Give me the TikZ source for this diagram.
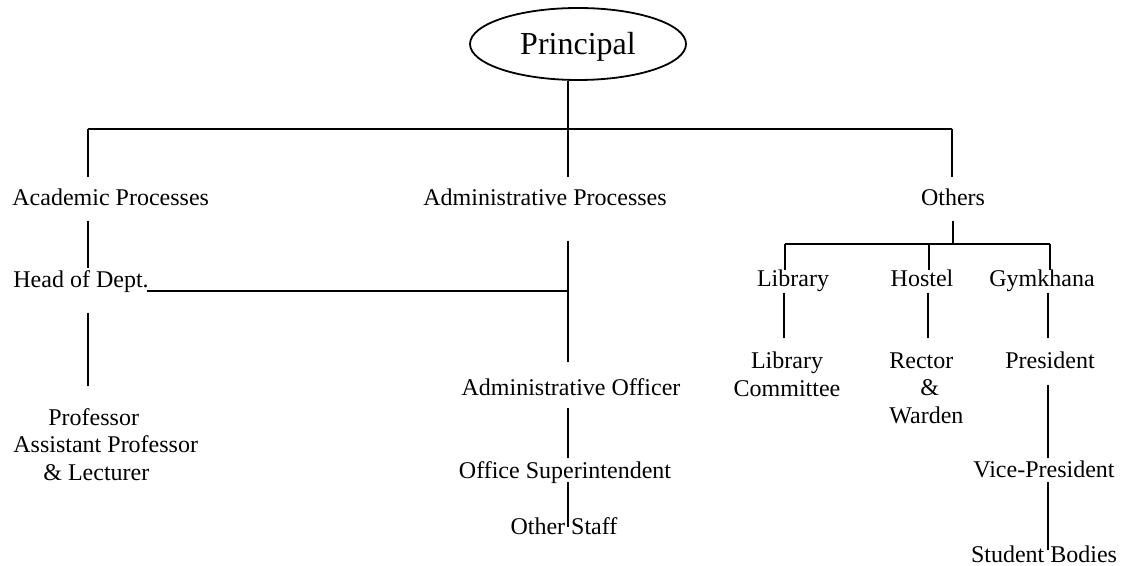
\documentclass[tikz,border=0pt]{standalone}
\usepackage{fontspec}
\setmainfont{Liberation Serif}
\usetikzlibrary{shapes.geometric}
\begin{document}
\begin{tikzpicture}[x=0.5pt,y=-0.5pt,
  lbl/.style={inner sep=0pt, font=\fontsize{12pt}{13.75pt}\selectfont, anchor=base},
  lbll/.style={lbl, anchor=base west},
  conn/.style={line width=1pt},
  topnode/.style={draw, ellipse, line width=0.9pt, minimum width=108pt, minimum height=36pt,
    inner sep=0pt, text height=10.6pt, text depth=0pt, font=\fontsize{16pt}{18pt}\selectfont}]
\useasboundingbox (0,0) rectangle (1128,566);

% top
\node[topnode] (principal) at (578,44) {Principal};
\coordinate (pj) at (568,129);
\coordinate (barL) at (88,129);
\coordinate (barR) at (952,129);
\draw[conn] (principal.south -| pj) -- (pj);
\draw[conn] (barL) -- (barR);

% level 1
\node[lbll] (acad) at (12,206) {Academic Processes};
\node[lbl] (admin) at (545,206) {Administrative Processes};
\node[lbl] (others) at (953,206) {Others};
\coordinate (acadT) at (88,177);
\coordinate (adminT) at (568,177);
\coordinate (othersT) at (952,177);
\draw[conn] (barL) -- (acadT);
\draw[conn] (pj) -- (adminT);
\draw[conn] (barR) -- (othersT);

% academic column
\node[lbll] (hod) at (13,288) {Head of Dept.};
\coordinate (acadB) at (88,221);
\coordinate (hodT) at (88,268);
\draw[conn] (acadB) -- (hodT);
\coordinate (hodR) at (147,291);
\coordinate (adminJ) at (568,291);
\draw[conn] (hodR) -- (adminJ);
\coordinate (hodB) at (88,313);
\coordinate (profT) at (88,386);
\draw[conn] (hodB) -- (profT);
\node[lbll, align=left] (prof) at (13,480)
  {\hspace*{17.5pt}Professor\\Assistant Professor\\\hspace*{15pt}\&~Lecturer};

% administrative column
\coordinate (adminB) at (568,241);
\coordinate (aoT) at (568,362);
\draw[conn] (adminB) -- (adminJ) -- (aoT);
\node[lbl] (ao) at (571,395) {Administrative Officer};
\coordinate (aoB) at (568,408);
\coordinate (osT) at (568,458);
\draw[conn] (aoB) -- (osT);
\node[lbl] (os) at (565,478) {Office Superintendent};
\node[lbl] (staff) at (564,534) {Other Staff};
\coordinate (osB) at (568,482);
\coordinate (staffM) at (568,527);
\draw[conn] (osB) -- (staffM);

% others column
\coordinate (othersB) at (953,221);
\coordinate (subJ) at (953,244);
\coordinate (subL) at (785,244);
\coordinate (subM) at (929,244);
\coordinate (subR) at (1050,244);
\draw[conn] (othersB) -- (subJ);
\draw[conn] (subL) -- (subR);
\node[lbl] (lib) at (793,287) {Library};
\node[lbl] (hostel) at (922,287) {Hostel};
\node[lbl] (gym) at (1042,287) {Gymkhana};
\draw[conn] (subL) -- (785,270) coordinate (libT);
\draw[conn] (subM) -- (929,270) coordinate (hostelT);
\draw[conn] (subR) -- (1050,270) coordinate (gymT);

\coordinate (libB) at (784,293);
\coordinate (lcT) at (784,338);
\coordinate (hostelB) at (928,293);
\coordinate (rwT) at (928,338);
\coordinate (gymB) at (1048,293);
\coordinate (presT) at (1048,338);
\draw[conn] (libB) -- (lcT);
\draw[conn] (hostelB) -- (rwT);
\draw[conn] (gymB) -- (presT);

\node[lbl, align=center] (lc) at (787,396) {Library\\Committee};
\node[lbll, align=left] (rw) at (889,423) {Rector\\\hspace*{15.5pt}\&\\Warden};
\node[lbl] (pres) at (1050,368) {President};

\coordinate (presB) at (1048,385);
\coordinate (vpT) at (1048,458);
\draw[conn] (presB) -- (vpT);
\node[lbl] (vp) at (1044,477) {Vice-President};
\coordinate (vpB) at (1048,482);
\coordinate (sbM) at (1048,550);
\draw[conn] (vpB) -- (sbM);
\node[lbl] (sb) at (1044,562) {Student Bodies};
\end{tikzpicture}
\end{document}
